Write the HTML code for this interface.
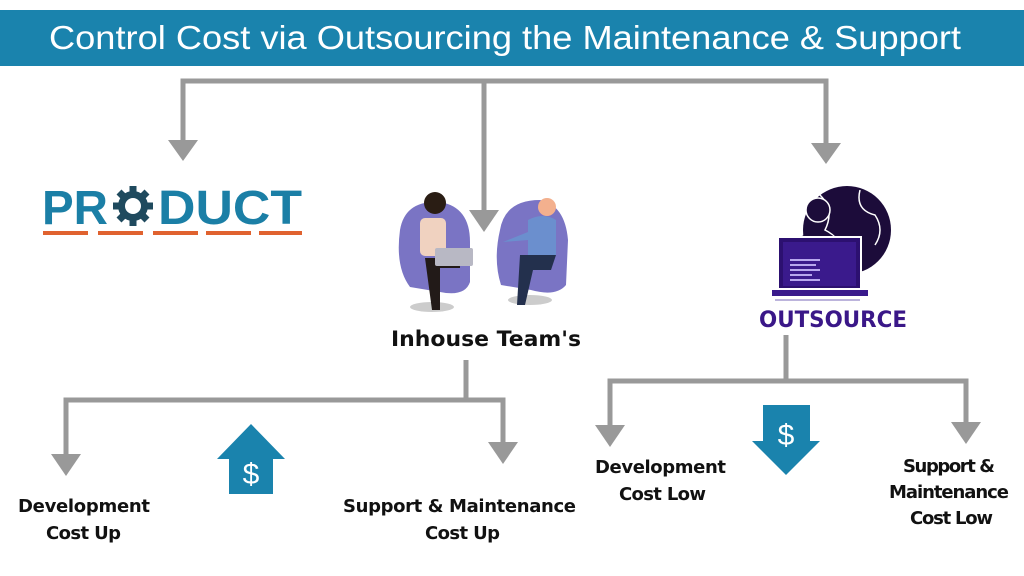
<!DOCTYPE html>
<html><head><meta charset="utf-8"><style>
html,body{margin:0;padding:0;background:#fff;}
svg{display:block;}
text{font-family:"Liberation Sans",sans-serif;}
text.dj{font-family:"DejaVu Sans",sans-serif;}
</style></head><body>
<svg width="1024" height="576" viewBox="0 0 1024 576" xmlns="http://www.w3.org/2000/svg">
<rect x="0" y="0" width="1024" height="576" fill="#fff"/>
<rect x="0" y="10" width="1024" height="56" fill="#1a83ad"/>
<text x="505" y="49" fill="#fff" font-size="33" text-anchor="middle" textLength="912" lengthAdjust="spacingAndGlyphs">Control Cost via Outsourcing the Maintenance &amp; Support</text>

<g stroke="#999" stroke-width="5" fill="none">
<polyline points="183,142 183,81 826,81 826,145"/>
<line x1="484" y1="81" x2="484" y2="212"/>
<line x1="466" y1="360" x2="466" y2="400"/>
<polyline points="66,456 66,400 503,400 503,444"/>
<line x1="786" y1="335" x2="786" y2="381"/>
<polyline points="610,427 610,381 966,381 966,424"/>
</g>
<g fill="#999">
<polygon points="168,140 198,140 183,161"/>
<polygon points="811,143 841,143 826,164"/>
<polygon points="469,210 499,210 484,232"/>
<polygon points="51,454 81,454 66,476"/>
<polygon points="488,442 518,442 503,464"/>
<polygon points="595,425 625,425 610,447"/>
<polygon points="951,422 981,422 966,444"/>
</g>

<!-- PRODUCT -->
<text x="42" y="224" fill="#1b7fa6" font-size="48" font-weight="bold" textLength="66" lengthAdjust="spacingAndGlyphs">PR</text>
<text x="158" y="224" fill="#1b7fa6" font-size="48" font-weight="bold" textLength="144" lengthAdjust="spacingAndGlyphs">DUCT</text>
<g transform="translate(133,206)" fill="#1f4a5e">
<circle r="15"/>
<g stroke="#1f4a5e" stroke-width="7">
<line x1="0" y1="-20" x2="0" y2="20"/><line x1="-20" y1="0" x2="20" y2="0"/>
<line x1="-14" y1="-14" x2="14" y2="14"/><line x1="-14" y1="14" x2="14" y2="-14"/>
</g>
<circle r="8" fill="#fff"/>
</g>
<g fill="#e0622f">
<rect x="43" y="231" width="45" height="4"/><rect x="98" y="231" width="45" height="4"/><rect x="153" y="231" width="45" height="4"/><rect x="206" y="231" width="45" height="4"/><rect x="259" y="231" width="43" height="4"/>
</g>

<!-- Inhouse people -->
<g>
<ellipse cx="432" cy="307" rx="22" ry="5" fill="#ccc"/>
<ellipse cx="530" cy="300" rx="22" ry="5" fill="#ccc"/>
<path d="M400,230 q5,-30 40,-28 q30,5 30,40 l0,40 q-5,15 -30,10 l-30,-5 q-15,-20 -10,-57z" fill="#7a74c4"/>
<path d="M500,230 q5,-30 40,-30 q25,5 28,40 l-2,45 q-10,12 -35,5 l-30,-5 q-8,-25 -1,-55z" fill="#7a74c4"/>
<circle cx="435" cy="203" r="11" fill="#2a1d14"/>
<rect x="420" y="218" width="26" height="38" rx="5" fill="#f0d2c0"/>
<path d="M425,258 l35,0 l0,10 l-20,0 l0,42 l-8,0z" fill="#221a18"/>
<rect x="435" y="248" width="38" height="18" rx="2" fill="#b8b8c4"/>
<circle cx="547" cy="207" r="9" fill="#f3b08e"/>
<path d="M528,220 q15,-8 28,0 l0,35 l-28,0z" fill="#6b8fce"/>
<path d="M503,242 l25,-10 l0,8 z" fill="#6b8fce"/>
<path d="M520,255 l36,0 l-5,15 l-18,0 l-8,35 l-8,0z" fill="#23304d"/>
</g>
<text class="dj" x="391" y="346" fill="#111" font-size="21" font-weight="bold" textLength="190" lengthAdjust="spacingAndGlyphs">Inhouse Team's</text>

<!-- Outsource -->
<g>
<circle cx="847" cy="230" r="44" fill="#1c0c3a"/>
<path d="M820,195 q15,15 5,35 q20,10 15,30 M860,190 q-5,20 15,25 q10,15 0,30" stroke="#fff" stroke-width="1.5" fill="none"/>
<circle cx="818" cy="210" r="12" fill="#1c0c3a" stroke="#fff" stroke-width="1.5"/>
<path d="M797,240 q20,-18 42,0z" fill="#1c0c3a"/>
<rect x="778" y="237" width="83" height="52" fill="#2c1070" stroke="#fff" stroke-width="2"/>
<rect x="783" y="242" width="73" height="44" fill="#3a1a8c"/>
<g stroke="#b9a8ee" stroke-width="2"><line x1="790" y1="260" x2="820" y2="260"/><line x1="790" y1="265" x2="816" y2="265"/><line x1="790" y1="270" x2="820" y2="270"/><line x1="790" y1="275" x2="812" y2="275"/><line x1="790" y1="280" x2="820" y2="280"/></g>
<rect x="772" y="290" width="96" height="6" fill="#3a1a8c"/>
<line x1="775" y1="300" x2="860" y2="300" stroke="#7a6ab8" stroke-width="1"/>
</g>
<text class="dj" x="833" y="327" fill="#3a1788" font-size="22" font-weight="bold" text-anchor="middle" textLength="148" lengthAdjust="spacingAndGlyphs">OUTSOURCE</text>

<!-- Up dollar -->
<polygon points="251,424 285,459 273,459 273,494 229,494 229,459 217,459" fill="#1a83ad"/>
<text x="251" y="484" fill="#fff" font-size="30" text-anchor="middle">$</text>
<!-- Down dollar -->
<polygon points="763,405 810,405 810,441 820,441 786,475 752,441 763,441" fill="#1a83ad"/>
<text x="786" y="445" fill="#fff" font-size="30" text-anchor="middle">$</text>

<g fill="#111" font-size="18" font-weight="bold" lengthAdjust="spacingAndGlyphs">
<text class="dj" x="18" y="512" textLength="132">Development</text>
<text class="dj" x="46" y="539" textLength="75">Cost Up</text>
<text class="dj" x="343" y="512" textLength="233">Support &amp; Maintenance</text>
<text class="dj" x="425" y="539" textLength="75">Cost Up</text>
<text class="dj" x="595" y="473" textLength="131">Development</text>
<text class="dj" x="619" y="500" textLength="87">Cost Low</text>
<text class="dj" x="903" y="472" textLength="92">Support &amp;</text>
<text class="dj" x="889" y="498" textLength="120">Maintenance</text>
<text class="dj" x="910" y="524" textLength="83">Cost Low</text>
</g>
</svg>
</body></html>
